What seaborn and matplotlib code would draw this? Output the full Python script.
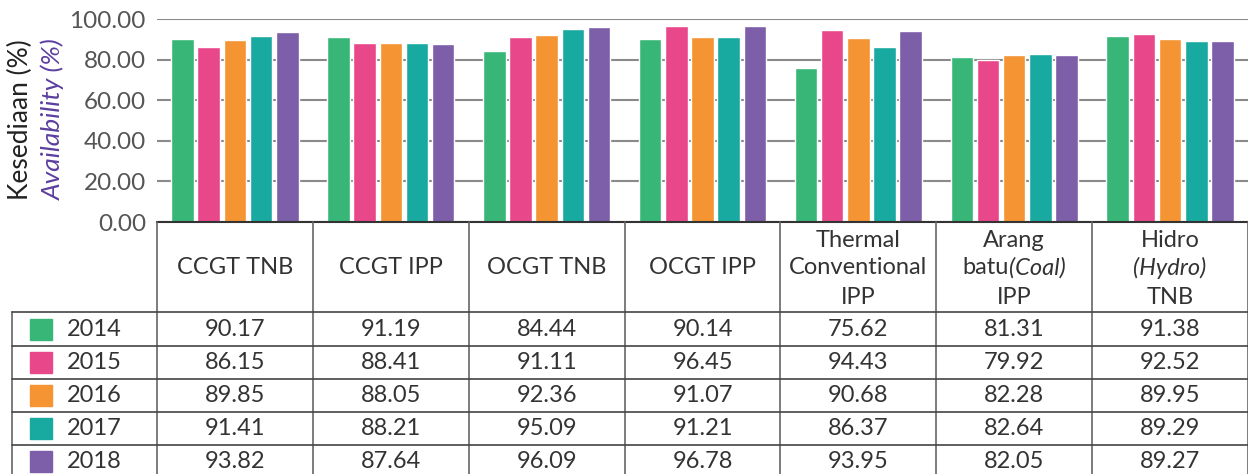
import numpy as np
import pandas as pd
import seaborn as sns
import matplotlib.pyplot as plt
import matplotlib.transforms as mtransforms
from matplotlib.patches import Rectangle

# Data
plants = ["CCGT TNB", "CCGT IPP", "OCGT TNB", "OCGT IPP",
          "Thermal Conventional IPP", "Arang batu (Coal) IPP", "Hidro (Hydro) TNB"]
years = ["2014", "2015", "2016", "2017", "2018"]
v2014 = [90.17, 91.19, 84.44, 90.14, 75.62, 81.31, 91.38]
v2015 = [86.15, 88.41, 91.11, 96.45, 94.43, 79.92, 92.52]
v2016 = [89.85, 88.05, 92.36, 91.07, 90.68, 82.28, 89.95]
v2017 = [91.41, 88.21, 95.09, 91.21, 86.37, 82.64, 89.29]
v2018 = [93.82, 87.64, 96.09, 96.78, 93.95, 82.05, 89.27]
colors = ["#38B677", "#E8488A", "#F49433", "#18A9A0", "#7D5EA8"]

# header text, each line is a list of (text, italic) pieces
headers = [
    [[("CCGT TNB", False)]],
    [[("CCGT IPP", False)]],
    [[("OCGT TNB", False)]],
    [[("OCGT IPP", False)]],
    [[("Thermal", False)], [("Conventional", False)], [("IPP", False)]],
    [[("Arang", False)], [("batu", False), ("(Coal)", True)], [("IPP", False)]],
    [[("Hidro", False)], [("(Hydro)", True)], [("TNB", False)]],
]

values = [v2014, v2015, v2016, v2017, v2018]
rows = []
for y, vals in zip(years, values):
    for p, v in zip(plants, vals):
        rows.append({"plant": p, "year": y, "value": v})
df = pd.DataFrame(rows)

sns.set_theme(style="white")
plt.rcParams["font.family"] = ["Lato", "DejaVu Sans"]

W, H = 1248, 474
fig = plt.figure(figsize=(W / 100, H / 100), dpi=100)
ax = fig.add_axes([157 / W, 1 - 222 / H, 1 - 157 / W, 203 / H])

sns.barplot(data=df, x="plant", y="value", hue="year", order=plants,
            hue_order=years, palette=colors, width=0.84, gap=0.14,
            saturation=1, legend=False, ax=ax)

ax.set_xlim(-0.5, 6.5)
ax.set_ylim(0, 100)
ax.set_yticks(np.arange(0, 101, 20))
ax.yaxis.set_major_formatter(plt.FormatStrFormatter("%.2f"))
ax.set_axisbelow(True)
ax.grid(axis="y", color="#8a8a8a", lw=1.5)
ax.grid(axis="x", visible=False)
for s in ["top", "right", "left"]:
    ax.spines[s].set_visible(False)
ax.spines["bottom"].set_color("#333333")
ax.spines["bottom"].set_linewidth(1.5)
ax.tick_params(axis="y", length=0, labelsize=17.5, labelcolor="#555555", pad=8)
ax.tick_params(axis="x", length=0, labelbottom=False)
ax.set_xlabel("")
ax.set_ylabel("")

# overlay in pixel coordinates for the table
tab = fig.add_axes([0, 0, 1, 1])
tab.set_xlim(0, W)
tab.set_ylim(H, 0)
tab.axis("off")
tab.patch.set_alpha(0)
bt = mtransforms.blended_transform_factory(ax.transData, tab.transData)

lc = "#666666"
for b in np.arange(-0.5, 7.0, 1):
    tab.plot([b, b], [222, H], color=lc, lw=1.2, transform=bt, clip_on=False)
tab.plot([12, 12], [312, H], color=lc, lw=1.2)
for yl in [312, 346, 379, 412, 445]:
    tab.plot([12, W], [yl, yl], color="#444444", lw=1.2)

# header
renderer = fig.canvas.get_renderer()
tc = "#333333"
fs = 17
for i, lines in enumerate(headers):
    ys = [268] if len(lines) == 1 else [240, 268, 297]
    for line, yc in zip(lines, ys):
        widths = []
        for txt, it in line:
            t = tab.text(0, 0, txt, fontsize=fs, style="italic" if it else "normal")
            widths.append(t.get_window_extent(renderer).width)
            t.remove()
        x0 = -sum(widths) / 2
        for (txt, it), w in zip(line, widths):
            tr = mtransforms.offset_copy(bt, fig=fig, x=x0, y=0, units="dots")
            tab.text(i, yc, txt, fontsize=fs, color=tc, ha="left", va="center",
                     style="italic" if it else "normal", transform=tr)
            x0 += w

# body rows
row_y = [329.5, 362.5, 395.5, 428.5, 461.5]
for yr, vals, col, yc in zip(years, values, colors, row_y):
    tab.add_patch(Rectangle((30, yc - 10.5), 22, 21, color=col))
    tab.text(67, yc, yr, fontsize=fs, color=tc, ha="left", va="center")
    for i, v in enumerate(vals):
        tab.text(i, yc, f"{v:.2f}", fontsize=fs, color=tc, ha="center",
                 va="center", transform=bt)

# y label
tab.text(20, 120, "Kesediaan (%)", rotation=90, fontsize=19, color="#222222",
         ha="center", va="center")
tab.text(53, 119, "Availability (%)", rotation=90, fontsize=19, color="#5B3F9F",
         style="italic", ha="center", va="center")

fig.savefig("out.png", dpi=100)
